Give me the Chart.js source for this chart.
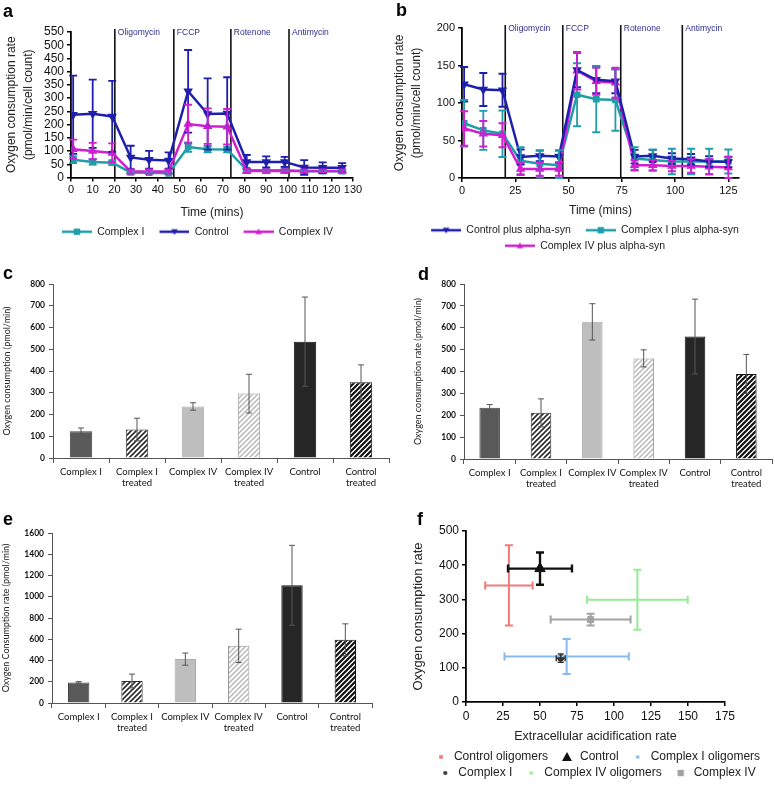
<!DOCTYPE html>
<html>
<head>
<meta charset="utf-8">
<script src="https://cdn.jsdelivr.net/npm/chart.js"></script>
<style>
  body { margin: 0; background: #fff; width: 775px; height: 789px; position: relative; overflow: hidden;
         font-family: "Liberation Sans", Arial, sans-serif; }
  canvas { position: absolute; }
  .tag { position: absolute; font-weight: bold; font-size: 18px; color: #000; line-height: 20px; }
</style>
</head>
<body>
<canvas id="chartA" width="385" height="247" style="left:0;top:0"></canvas>
<canvas id="chartB" width="390" height="261" style="left:385px;top:0"></canvas>
<canvas id="chartC" width="390" height="236" style="left:0;top:262px"></canvas>
<canvas id="chartD" width="390" height="238" style="left:385px;top:262px"></canvas>
<canvas id="chartE" width="385" height="232" style="left:0;top:512px"></canvas>
<canvas id="chartF" width="390" height="277" style="left:385px;top:512px"></canvas>
<div class="tag" style="left:3px;top:1px">a</div>
<div class="tag" style="left:396px;top:0px">b</div>
<div class="tag" style="left:3px;top:263px">c</div>
<div class="tag" style="left:418px;top:264px">d</div>
<div class="tag" style="left:3px;top:509px">e</div>
<div class="tag" style="left:417px;top:509px">f</div>
<script>
// ---- panel a: OCR trace, untreated cells ----
const timeA = [1, 10, 19, 27.5, 36, 45, 54, 63, 72, 81, 90, 98.5, 107.5, 116, 125];
const complex1A = [67, 59, 56, 19, 18, 16, 115, 107, 106, 28, 27, 27, 24, 24, 24];
const complex1AErr = [13, 10, 8, 3, 3, 3, 18, 12, 11, 4, 4, 4, 4, 4, 4];
const controlA = [237, 241, 231, 76, 67, 64, 326, 240, 242, 59, 59, 59, 38, 37, 37];
const controlAErr = [148, 129, 134, 44, 34, 31, 156, 135, 137, 26, 21, 19, 28, 20, 17];
const complex4A = [107, 100, 93, 23, 23, 23, 202, 194, 192, 25, 25, 25, 25, 25, 25];
const complex4AErr = [36, 31, 36, 8, 8, 8, 73, 67, 67, 8, 6, 6, 6, 6, 6];
const injectionsA = [20.2, 47.4, 73.7, 100.5];

// ---- panel b: OCR trace, plus alpha-syn ----
const timeB = [1, 10, 19, 27.5, 36.5, 45.5, 54, 63, 72, 81, 89.5, 98.5, 107.5, 116, 125];
const controlB = [125, 118, 117, 28, 29.5, 28.6, 144, 131, 129, 28.6, 29.5, 26, 25, 22, 21.5];
const controlBErr = [23, 22, 22, 10, 7, 8, 23, 18, 16, 9, 8, 7, 7, 7, 7];
const complex1B = [73, 63.5, 59, 23, 19, 17, 111, 105, 104, 26, 24, 22, 22, 22, 22];
const complex1BErr = [31, 26, 31, 18, 18, 20, 42, 44, 41, 15, 14, 17, 17, 17, 16];
const complex4B = [66, 59, 57, 12, 12, 12, 143, 129, 127, 17, 17, 16, 16, 15, 14];
const complex4BErr = [23, 17, 16, 8, 9, 9, 25, 18, 20, 7, 7, 7, 9, 10, 14];
const injectionsB = [20.3, 47.3, 74.5, 103.4];
const injectionNames = ['Oligomycin', 'FCCP', 'Rotenone', 'Antimycin'];

// ---- panels c, d, e: bar charts ----
const barLabels = [['Complex I'], ['Complex I', 'treated'], ['Complex IV'], ['Complex IV', 'treated'], ['Control'], ['Control', 'treated']];
const barsC = [123, 131, 237, 296, 535, 348];
const barsCErr = [15, 52, 17, 89, 205, 80];
const barsD = [234, 211, 627, 460, 560, 389];
const barsDErr = [15, 64, 83, 39, 171, 89];
const barsE = [194, 207, 413, 538, 1108, 595];
const barsEErr = [7, 65, 57, 157, 376, 150];

// ---- panel f: OCR vs ECAR ----
const groupsF = ['Control oligomers', 'Control', 'Complex I oligomers', 'Complex I', 'Complex IV oligomers', 'Complex IV'];
const ecarF = [29, 50, 68, 64, 115.8, 84.2];
const ecarFErr = [16, 21.6, 42, 3, 34, 27];
const ocrF = [341, 390, 133, 128, 299, 241];
const ocrFErr = [117, 47, 51, 12, 88, 17];

const TEAL = '#1f9ea8', BLUE = '#1f1fae', PINK = '#d21ed2';
const fColors = ['#f07a7a', '#111111', '#86bbec', '#333333', '#94ec94', '#a3a3a3'];
const fShapes = ['rect', 'tri', 'rect', 'circle', 'rect', 'rect'];
const fSizes = [1.8, 5, 1.6, 2, 1.6, 3.2];

Chart.defaults.font.family = '"Liberation Sans", Arial, sans-serif';
Chart.defaults.color = '#111';

const plain = (v) => String(v);

function marker(g, style, x, y, r, color) {
  g.fillStyle = color;
  g.beginPath();
  if (style === 'rect') g.rect(x - r, y - r, 2 * r, 2 * r);
  else if (style === 'tri') { g.moveTo(x, y - r); g.lineTo(x + r, y + r * 0.8); g.lineTo(x - r, y + r * 0.8); }
  else if (style === 'tridown') { g.moveTo(x, y + r); g.lineTo(x + r, y - r * 0.8); g.lineTo(x - r, y - r * 0.8); }
  else g.arc(x, y, r, 0, Math.PI * 2);
  g.closePath();
  g.fill();
}

// legend icon: line with marker in the middle (left margin acts as gap)
function lineIcon(color, style) {
  const c = document.createElement('canvas');
  c.width = 40; c.height = 10;
  const g = c.getContext('2d');
  g.strokeStyle = color; g.lineWidth = 2.5;
  g.beginPath(); g.moveTo(10, 5); g.lineTo(40, 5); g.stroke();
  marker(g, style, 25, 5, 3.2, color);
  return c;
}

function dotIcon(color, style, r) {
  const c = document.createElement('canvas');
  c.width = 22; c.height = 12;
  const g = c.getContext('2d');
  marker(g, style, 15, 6, r, color);
  return c;
}

function hatch(line, width, bg) {
  const s = 5;
  const c = document.createElement('canvas');
  c.width = s; c.height = s;
  const g = c.getContext('2d');
  g.fillStyle = bg; g.fillRect(0, 0, s, s);
  g.strokeStyle = line; g.lineWidth = width;
  g.beginPath();
  g.moveTo(0, s); g.lineTo(s, 0);
  g.moveTo(-1, 1); g.lineTo(1, -1);
  g.moveTo(s - 1, s + 1); g.lineTo(s + 1, s - 1);
  g.stroke();
  return g.createPattern(c, 'repeat');
}

const errorBars = {
  id: 'errorBars',
  afterDatasetsDraw(chart) {
    const ctx = chart.ctx;
    chart.data.datasets.forEach((ds, i) => {
      if (!ds.errY && !ds.errX) return;
      const meta = chart.getDatasetMeta(i);
      const ys = chart.scales[meta.yAxisID], xs = chart.scales[meta.xAxisID];
      const cap = ds.errCap || 3;
      ctx.save();
      ctx.strokeStyle = ds.errColor || ds.borderColor;
      ctx.lineWidth = ds.errWidth || 1;
      meta.data.forEach((el, j) => {
        const v = ds.data[j];
        const yv = typeof v === 'object' ? v.y : v;
        ctx.beginPath();
        if (ds.errY) {
          const t = ys.getPixelForValue(yv + ds.errY[j]);
          const b = ys.getPixelForValue(Math.max(ys.min, yv - ds.errY[j]));
          ctx.moveTo(el.x, t); ctx.lineTo(el.x, b);
          ctx.moveTo(el.x - cap, t); ctx.lineTo(el.x + cap, t);
          ctx.moveTo(el.x - cap, b); ctx.lineTo(el.x + cap, b);
        }
        if (ds.errX) {
          const l = xs.getPixelForValue(v.x - ds.errX[j]);
          const r = xs.getPixelForValue(v.x + ds.errX[j]);
          ctx.moveTo(l, el.y); ctx.lineTo(r, el.y);
          ctx.moveTo(l, el.y - cap); ctx.lineTo(l, el.y + cap);
          ctx.moveTo(r, el.y - cap); ctx.lineTo(r, el.y + cap);
        }
        ctx.stroke();
      });
      ctx.restore();
    });
  }
};

const injections = {
  id: 'injections',
  beforeDatasetsDraw(chart, args, opts) {
    const {ctx, chartArea, scales} = chart;
    ctx.save();
    opts.at.forEach((t, i) => {
      const px = scales.x.getPixelForValue(t);
      ctx.strokeStyle = '#111'; ctx.lineWidth = 1.6;
      ctx.beginPath(); ctx.moveTo(px, chartArea.top - 3); ctx.lineTo(px, chartArea.bottom); ctx.stroke();
      ctx.fillStyle = '#2d2d8c';
      ctx.font = '8.5px "Liberation Sans"';
      ctx.textBaseline = 'middle';
      ctx.fillText(injectionNames[i], px + 3, chartArea.top + 1);
    });
    ctx.restore();
  }
};

function traceSet(label, times, vals, errs, color, style, order) {
  return {
    label: label,
    data: times.map((t, i) => ({x: t, y: vals[i]})),
    borderColor: color, backgroundColor: color, borderWidth: 2.5,
    pointStyle: style === 'tridown' ? 'triangle' : style === 'tri' ? 'triangle' : 'rect',
    rotation: style === 'tridown' ? 180 : 0,
    pointRadius: 3, tension: 0,
    errY: errs, errColor: color, errWidth: 1.8, errCap: 4,
    icon: lineIcon(color, style), order: order
  };
}

function traceOptions(o) {
  const axisLine = {color: '#000', width: 1.8};
  const tickGrid = {drawOnChartArea: false, color: '#000', lineWidth: 1.5, tickLength: 4};
  return {
    responsive: false, animation: false,
    layout: {padding: {top: o.top, left: 0, right: 0, bottom: 0}},
    plugins: {
      tooltip: {enabled: false},
      injections: {at: o.marks},
      legend: {
        position: 'bottom',
        labels: {
          usePointStyle: true, pointStyleWidth: 40, padding: 5,
          font: {size: 10.5}, color: '#222',
          generateLabels: (chart) => chart.data.datasets.map((ds, i) => ({
            text: ds.label, pointStyle: ds.icon, datasetIndex: i, hidden: false,
            fontColor: '#222', lineWidth: 0, strokeStyle: 'rgba(0,0,0,0)', fillStyle: 'rgba(0,0,0,0)'
          }))
        }
      }
    },
    scales: {
      x: {
        type: 'linear', min: 0, max: 130,
        ticks: {stepSize: o.xstep, includeBounds: false, autoSkip: false, font: {size: 11}, padding: 2, maxRotation: 0, callback: plain},
        border: axisLine, grid: tickGrid,
        title: {display: true, text: 'Time (mins)', font: {size: 12}, color: '#222', padding: {top: 2, bottom: 2}},
        afterFit: (s) => { s.height = o.xh; }
      },
      y: {
        min: 0, max: o.ymax,
        ticks: {stepSize: o.ystep, autoSkip: false, font: {size: o.yfont}, padding: 3, callback: plain},
        border: axisLine, grid: tickGrid,
        title: {display: true, text: ['Oxygen consumption rate', '(pmol/min/cell count)'],
                font: {size: 12, lineHeight: 1.45}, color: '#222', padding: {top: o.tp, bottom: 0}},
        afterFit: (s) => { s.width = o.yw; }
      },
      pad: {
        position: 'right', display: true, grid: {display: false}, border: {display: false},
        ticks: {display: false}, afterFit: (s) => { s.width = o.right; }
      }
    }
  };
}

new Chart('chartA', {
  type: 'line',
  data: {datasets: [
    traceSet('Complex I', timeA, complex1A, complex1AErr, TEAL, 'rect', 2),
    traceSet('Control', timeA, controlA, controlAErr, BLUE, 'tridown', 0),
    traceSet('Complex IV', timeA, complex4A, complex4AErr, PINK, 'tri', 1)
  ]},
  options: traceOptions({top: 32, right: 32, yw: 71, xh: 44, ymax: 550, ystep: 50, xstep: 10, tp: 3, yfont: 12, marks: injectionsA}),
  plugins: [injections, errorBars]
});

new Chart('chartB', {
  type: 'line',
  data: {datasets: [
    traceSet('Control plus alpha-syn', timeB, controlB, controlBErr, BLUE, 'tridown', 0),
    traceSet('Complex I plus alpha-syn', timeB, complex1B, complex1BErr, TEAL, 'rect', 2),
    traceSet('Complex IV plus alpha-syn', timeB, complex4B, complex4BErr, PINK, 'tri', 1)
  ]},
  options: traceOptions({top: 28, right: 36, yw: 77, xh: 42, ymax: 200, ystep: 50, xstep: 25, tp: 6, yfont: 11, marks: injectionsB}),
  plugins: [injections, errorBars]
});

const barFills = [
  '#595959',
  hatch('#2b2b2b', 1.6, '#ffffff'),
  '#bebebe',
  hatch('#b8b8b8', 1.5, '#ffffff'),
  '#262626',
  hatch('#111111', 2.2, '#ffffff')
];
const barEdges = ['#444', '#333', '#aaa', '#999', '#111', '#111'];

function barChart(id, vals, errs, o) {
  const grid = {drawOnChartArea: false, color: '#555', tickLength: 5};
  return new Chart(id, {
    type: 'bar',
    data: {labels: barLabels, datasets: [{
      data: vals, backgroundColor: barFills, borderColor: barEdges, borderWidth: 1,
      barPercentage: 0.4, categoryPercentage: 1,
      errY: errs, errColor: '#555', errWidth: 1, errCap: 3
    }]},
    options: {
      responsive: false, animation: false,
      layout: {padding: {top: o.top, right: o.right, left: 0, bottom: 0}},
      plugins: {legend: {display: false}, tooltip: {enabled: false}},
      scales: {
        x: {
          grid: Object.assign({offset: true}, grid), border: {color: '#555'},
          ticks: {font: {family: 'Lato', size: 9.5}, color: '#111', maxRotation: 0, autoSkip: false, padding: 3},
          afterFit: (s) => { s.height = o.xh; }
        },
        y: {
          min: 0, max: o.ymax, grid: Object.assign({}, grid, {tickLength: 4}), border: {color: '#555'},
          ticks: {stepSize: o.ystep, autoSkip: false, font: {family: 'Lato', size: 8.5, weight: 'bold'}, color: '#111', padding: 4, callback: plain},
          title: {display: true, text: o.title, font: {family: 'Lato', size: 9}, color: '#222',
                  padding: {top: o.tp, bottom: 0}},
          afterFit: (s) => { s.width = o.yw; }
        }
      }
    },
    plugins: [errorBars]
  });
}

barChart('chartC', barsC, barsCErr, {top: 22, right: 1, yw: 53, xh: 40, ymax: 800, ystep: 100, tp: 2,
  title: 'Oxygen consumption (pmol/min)'});
barChart('chartD', barsD, barsDErr, {top: 22, right: 3, yw: 79, xh: 41, ymax: 800, ystep: 100, tp: 28,
  title: 'Oxygen consumption rate (pmol/min)'});
barChart('chartE', barsE, barsEErr, {top: 21, right: 13, yw: 52, xh: 41, ymax: 1600, ystep: 200, tp: 1,
  title: 'Oxygen Consumption rate (pmol/min)'});

new Chart('chartF', {
  type: 'scatter',
  data: {datasets: groupsF.map((name, i) => ({
    label: name,
    data: [{x: ecarF[i], y: ocrF[i]}],
    backgroundColor: fColors[i], borderColor: fColors[i],
    pointStyle: fShapes[i] === 'tri' ? 'triangle' : fShapes[i] === 'circle' ? 'circle' : 'rect',
    pointRadius: i % 2 === 0 && i !== 5 ? 0 : fSizes[i] + 1,
    errX: [ecarFErr[i]], errY: [ocrFErr[i]], errColor: fColors[i],
    errWidth: i === 1 ? 2.4 : i === 3 ? 1.5 : 2, errCap: i === 3 ? 3 : 4,
    icon: dotIcon(fColors[i], fShapes[i], fSizes[i])
  }))},
  options: {
    responsive: false, animation: false,
    layout: {padding: {top: 19, left: 26, right: 0, bottom: 0}},
    plugins: {
      tooltip: {enabled: false},
      legend: {
        position: 'bottom',
        labels: {
          usePointStyle: true, pointStyleWidth: 22, padding: 4, font: {size: 12}, color: '#222',
          generateLabels: (chart) => chart.data.datasets.map((ds, i) => ({
            text: ds.label, pointStyle: ds.icon, datasetIndex: i, hidden: false,
            fontColor: '#222', lineWidth: 0, strokeStyle: 'rgba(0,0,0,0)', fillStyle: 'rgba(0,0,0,0)'
          }))
        }
      }
    },
    scales: {
      x: {
        type: 'linear', min: 0, max: 175,
        ticks: {stepSize: 25, autoSkip: false, font: {size: 12}, padding: 3},
        border: {color: '#000', width: 1.8},
        grid: {drawOnChartArea: false, color: '#000', lineWidth: 1.5, tickLength: 4},
        title: {display: true, text: 'Extracellular acidification rate', font: {size: 12.5}, color: '#222', padding: {top: 2, bottom: 3}},
        afterFit: (s) => { s.height = 45; }
      },
      y: {
        min: 0, max: 500,
        ticks: {stepSize: 100, autoSkip: false, font: {size: 12}, padding: 3},
        border: {color: '#000', width: 1.8},
        grid: {drawOnChartArea: false, color: '#000', lineWidth: 1.5, tickLength: 4},
        title: {display: true, text: 'Oxygen consumption rate', font: {size: 13}, color: '#222', padding: {top: 0, bottom: 0}},
        afterFit: (s) => { s.width = 55; }
      },
      pad: {
        position: 'right', display: true, grid: {display: false}, border: {display: false},
        ticks: {display: false}, afterFit: (s) => { s.width = 50; }
      }
    }
  },
  plugins: [errorBars]
});
</script>
</body>
</html>
